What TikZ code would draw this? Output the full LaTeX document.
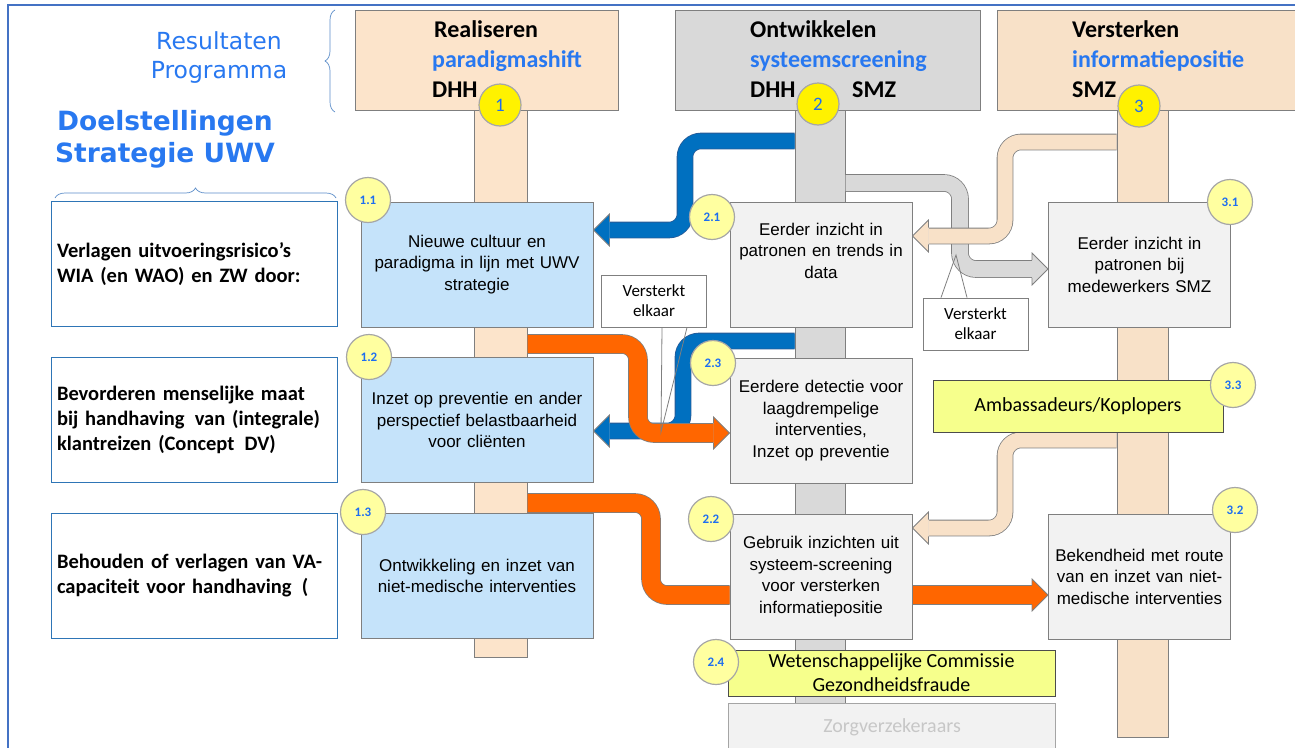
\documentclass[tikz,border=0pt]{standalone}
\usepackage{fontspec}
\setmainfont{Carlito}
\newfontfamily\arialfont{Liberation Sans}
\newfontfamily\vfont{DejaVu Sans}
\usetikzlibrary{calc,decorations.pathreplacing}

\pgfdeclarelayer{background}
\pgfsetlayers{background,main}

\definecolor{peach}{RGB}{252,228,203}
\definecolor{peachb}{RGB}{248,225,200}
\definecolor{pillargray}{RGB}{217,217,217}
\definecolor{lightblue}{RGB}{197,227,250}
\definecolor{lightgray}{RGB}{242,242,242}
\definecolor{paleyellow}{RGB}{246,255,140}
\definecolor{circyellow}{RGB}{255,255,160}
\definecolor{titleblue}{RGB}{40,120,240}
\definecolor{frameblue}{RGB}{68,114,196}
\definecolor{goalblue}{RGB}{46,117,182}
\definecolor{braceblue}{RGB}{91,140,200}
\definecolor{bandblue}{RGB}{0,112,192}
\definecolor{blueedge}{RGB}{40,90,150}
\definecolor{bandorange}{RGB}{255,102,0}
\definecolor{edgegray}{RGB}{127,127,127}
\definecolor{numblue}{RGB}{30,110,240}

% arrow head of a band: colour, tip, direction (1 right, -1 left), half band width
\newcommand{\bandtip}[4]{%
  \begin{scope}[shift={(#2)},xscale=#3]
  \fill[#1] (0,0) -- (-16,-16) -- (-16,16) -- cycle;
  \draw[edgegray,line width=0.8pt] (-16,-#4) -- (-16,-16) -- (0,0) -- (-16,16) -- (-16,#4);
  \end{scope}}

\begin{document}
\begin{tikzpicture}[x=1pt,y=-1pt,
  headbox/.style={draw=edgegray,line width=1pt,minimum height=100pt,inner sep=0pt},
  headtxt/.style={anchor=base west,inner sep=0pt,font=\bfseries\fontsize{24}{28}\selectfont},
  pillar/.style={draw=edgegray,line width=1pt,inner sep=0pt},
  goalbox/.style={draw=goalblue,line width=1pt,fill=white,minimum width=286pt,minimum height=125pt,
    text width=274pt,align=left,inner sep=0pt,font=\bfseries\fontsize{20.5}{25}\selectfont},
  bluebox/.style={draw=edgegray,line width=1pt,fill=lightblue,minimum width=232pt,minimum height=125pt,
    text width=228pt,align=center,inner sep=0pt,font=\arialfont\fontsize{17}{21.5}\selectfont},
  greybox/.style={bluebox,fill=lightgray,minimum width=182pt,text width=180pt},
  yellowbox/.style={draw=black!70,line width=0.8pt,fill=paleyellow,inner sep=0pt,align=center,
    font=\fontsize{20}{24}\selectfont},
  bignum/.style={circle,draw=black!35,line width=1.2pt,fill=yellow,minimum size=42pt,inner sep=0pt,
    text=numblue,font=\fontsize{19}{19}\selectfont},
  subnum/.style={circle,draw=black!35,line width=1.2pt,fill=circyellow,minimum size=45pt,inner sep=0pt,
    text=numblue,font=\bfseries\fontsize{13}{13}\selectfont},
  callbox/.style={draw=edgegray,line width=0.8pt,fill=white,minimum width=105pt,minimum height=52pt,
    inner sep=0pt,align=center,font=\fontsize{17}{20}\selectfont},
  band/.style={line width=0.8pt,double distance=15pt,rounded corners=16pt},
  bracket/.style={braceblue,line width=0.7pt,decorate,decoration={brace,amplitude=10pt}}]
\useasboundingbox (0,0) rectangle (1295,747);
\clip (0,0) rectangle (1295,747);

% frame
\draw[frameblue,line width=1.2pt] (8,760) -- (8,5) -- (1300,5);

% left titles
\node[anchor=base,align=center,inner sep=0pt,text=titleblue,font=\vfont\fontsize{23.5}{29}\selectfont]
  (res) at (219,78) {Resultaten\\Programma};
\node[anchor=base,align=center,inner sep=0pt,text=titleblue,font=\vfont\bfseries\fontsize{26.5}{32}\selectfont]
  (doel) at (165,162) {Doelstellingen\\Strategie UWV};
\draw[bracket] (335,112) -- (335,10);
\draw[bracket] (55,198) -- (336,198);

% headers
\node[headbox,fill=peach,minimum width=263pt] (h1) at (486.5,60) {};
\node[headbox,fill=pillargray,minimum width=305pt] (h2) at (827.5,60) {};
\node[headbox,fill=peachb,minimum width=308pt] (h3) at (1151,60) {};
\node[headtxt] at (434,37) {Realiseren};
\node[headtxt,text=titleblue] at (432,67) {paradigmashift};
\node[headtxt] at (432,97) {DHH};
\node[headtxt] at (750,37) {Ontwikkelen};
\node[headtxt,text=titleblue] at (750,67) {systeemscreening};
\node[headtxt] at (750,97) {DHH};
\node[headtxt] at (852,97) {SMZ};
\node[headtxt] at (1072,37) {Versterken};
\node[headtxt,text=titleblue] at (1072,67) {informatiepositie};
\node[headtxt] at (1072,97) {SMZ};

% doelstellingen
\node[goalbox] (g1) at (194,264) {Verlagen uitvoeringsrisico’s\\WIA (en WAO) en ZW door:};
\node[goalbox] (g2) at (194,420) {Bevorderen menselijke maat\\bij handhaving\, van (integrale)\\klantreizen (Concept\, DV)};
\node[goalbox] (g3) at (194,576) {Behouden of verlagen van VA-\\capaciteit voor handhaving\, (};

% kolom 1
\node[bluebox] (b11) at (477,264.5) {Nieuwe cultuur en\\paradigma in lijn met UWV\\strategie};
\node[bluebox] (b12) at (477,420) {Inzet op preventie en ander\\perspectief belastbaarheid\\voor cliënten};
\node[bluebox] (b13) at (477,576) {Ontwikkeling en inzet van\\niet-medische interventies};

% kolom 2
\node[greybox] (b21) at (821,264.5) {Eerder inzicht in\\patronen en trends in\\data\\\strut};
\node[greybox] (b23) at (821,420.5) {Eerdere detectie voor\\laagdrempelige\\interventies,\\Inzet op preventie};
\node[greybox] (b22) at (821,576.5) {Gebruik inzichten uit\\systeem-screening\\voor versterken\\informatiepositie};
\node[yellowbox,minimum width=327pt,minimum height=46pt] (b24) at (891.5,673) {Wetenschappelijke Commissie\\Gezondheidsfraude};
\node[draw=edgegray!70,line width=0.8pt,fill=lightgray,minimum width=327pt,minimum height=60pt,anchor=north,
  inner sep=0pt,text=black!22,font=\fontsize{20}{24}\selectfont] (zorg) at (891.5,703) {};
\node[text=black!22,font=\fontsize{20}{24}\selectfont,inner sep=0pt] at (892,727) {Zorgverzekeraars};

% kolom 3
\node[greybox] (b31) at (1139.5,264.5) {Eerder inzicht in\\patronen bij\\medewerkers SMZ};
\node[greybox] (b32) at (1139.5,576.5) {Bekendheid met route\\van en inzet van niet-\\medische interventies};
\node[yellowbox,minimum width=290pt,minimum height=52pt] (b33) at (1078,406) {Ambassadeurs/Koplopers};

% nummers
\node[bignum] (n1) at (500,105) {1};
\node[bignum] (n2) at (818,104) {2};
\node[bignum] (n3) at (1139,106) {3};
\node[subnum] at (368,200) {1.1};
\node[subnum] at (369,357) {1.2};
\node[subnum] at (363,512) {1.3};
\node[subnum] at (712,217) {2.1};
\node[subnum] at (713,363) {2.3};
\node[subnum] at (711,519) {2.2};
\node[subnum] at (716,662) {2.4};
\node[subnum] at (1230,202) {3.1};
\node[subnum] at (1233,385) {3.3};
\node[subnum] at (1235,510) {3.2};

% versterkt elkaar
\node[callbox] (v1) at (654,301) {Versterkt\\elkaar};
\coordinate (v1tip) at (661,432);
\draw[edgegray,line width=0.8pt] (v1.south -| 662,0) -- (v1tip) -- (v1.south -| 687,0);
\node[callbox] (v2) at (975.5,324) {Versterkt\\elkaar};
\coordinate (v2tip) at (956,255);
\draw[edgegray,line width=0.8pt] (v2.north -| 941,0) -- (v2tip) -- (v2.north -| 967,0);

\begin{pgfonlayer}{background}
% pijlers
\node[pillar,fill=peach,minimum width=53pt,minimum height=557pt] (p1) at (500.5,378.5) {};
\node[pillar,fill=pillargray,minimum width=50pt,minimum height=655pt] (p2) at (820,432.5) {};
\node[pillar,fill=peachb,minimum width=51pt,minimum height=632pt] (p3) at (1142.5,421) {};

\coordinate (tA) at (b11.east |- 0,230);
\coordinate (tB) at (b12.east |- 0,431);
\coordinate (tC) at (b23.west |- 0,433);
\coordinate (tD) at (b32.west |- 0,595);
\coordinate (tE) at (b31.west |- 0,269);
\coordinate (tF) at (b21.east |- 0,236);
\coordinate (tG) at (b22.east |- 0,528);

% blauw
\draw[band,draw=blueedge,double=bandblue] (p2.west |- 0,141) -- (685,141) -- (685,230) -- ($(tA)+(16,0)$);
\bandtip{bandblue}{tA}{-1}{8.3}
\draw[band,draw=blueedge,double=bandblue] (p2.west |- 0,341) -- (683,341) -- (683,431) -- ($(tB)+(16,0)$);
\bandtip{bandblue}{tB}{-1}{8.3}
% grijs
\draw[band,draw=edgegray,double=pillargray,double distance=16pt] (p2.east |- 0,183) -- (960,183) -- (960,269) -- ($(tE)+(-16,0)$);
\bandtip{pillargray}{tE}{1}{8.8}
% perzik
\draw[band,draw=edgegray,double=peachb] (p3.west |- 0,142) -- (1005,142) -- (1005,236) -- ($(tF)+(16,0)$);
\bandtip{peachb}{tF}{-1}{8.3}
\draw[band,draw=edgegray,double=peachb] (p3.west |- 0,440) -- (1005,440) -- (1005,528) -- ($(tG)+(16,0)$);
\bandtip{peachb}{tG}{-1}{8.3}
% oranje
\draw[band,draw=edgegray,double=bandorange,double distance=18pt] (p1.east |- 0,344) -- (638,344) -- (638,433) -- ($(tC)+(-16,0)$);
\bandtip{bandorange}{tC}{1}{9.8}
\draw[band,draw=edgegray,double=bandorange,double distance=18pt] (p1.east |- 0,503) -- (651,503) -- (651,595) -- (b22.west |- 0,595);
\draw[band,draw=edgegray,double=bandorange,double distance=18pt] (b22.east |- 0,595) -- ($(tD)+(-16,0)$);
\bandtip{bandorange}{tD}{1}{9.8}
\end{pgfonlayer}
\end{tikzpicture}
\end{document}
